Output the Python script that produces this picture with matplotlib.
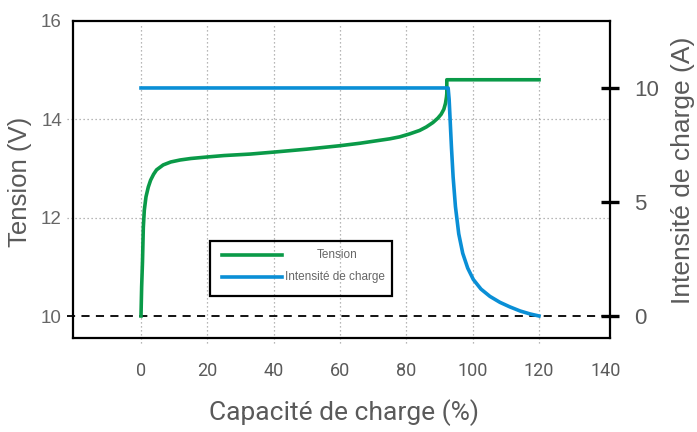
import matplotlib
matplotlib.use("Agg")
import matplotlib.pyplot as plt
from matplotlib.patches import Rectangle
from matplotlib.lines import Line2D

# ---- data ----
cap_tension = [0, 0.2, 0.45, 0.7, 1.0, 1.5, 2.2, 2.9, 3.8, 4.7, 6.7, 9, 11.8, 15, 19.8,
               25, 32.9, 40, 50, 60, 66, 71, 75, 78, 81, 84, 86, 88, 89.5, 90.5, 91.3,
               91.8, 92.1, 92.2, 92.2, 120]
tension = [10.0, 10.6, 11.1, 11.8, 12.15, 12.42, 12.62, 12.76, 12.88, 12.97, 13.07, 13.13,
           13.17, 13.2, 13.23, 13.26, 13.29, 13.33, 13.39, 13.46, 13.51, 13.56, 13.6,
           13.64, 13.7, 13.77, 13.84, 13.93, 14.02, 14.1, 14.2, 14.32, 14.45, 14.52,
           14.8, 14.8]

cap_courant = [0, 92.6, 92.9, 93.2, 93.6, 94.1, 94.8, 95.8, 97.0, 98.5, 100.2, 102.5,
               105.2, 108.2, 111.2, 114.3, 117.3, 120]
courant = [10.0, 10.0, 9.5, 8.6, 7.4, 6.1, 4.8, 3.6, 2.75, 2.1, 1.6, 1.18, 0.86, 0.6,
           0.4, 0.22, 0.09, 0.0]

x_ticks = [0, 20, 40, 60, 80, 100, 120, 140]
x_grid = [0, 20, 40, 60, 80, 100, 120]
v_ticks = [10, 12, 14, 16]
a_ticks = [0, 5, 10]

GREEN = "#0a9a48"
BLUE = "#0a8fd6"
GRAY_TXT = "#5a5a5a"
GRID = "#a0a0a0"

fig = plt.figure(figsize=(6.97, 4.32), dpi=100)
W, H = 697, 432
ax = fig.add_axes([73 / W, 1 - 338 / H, (610 - 73) / W, (338 - 20.7) / H])
ax.set_xlim(-20.5, 141.4)
ax.set_ylim(9.553, 16.0)

for s in ax.spines.values():
    s.set_linewidth(1.6)
    s.set_color("black")

# grid lines (manual, extending slightly outside)
for xv in x_grid:
    ax.plot([xv, xv], [9.451, 15.95], color=GRID, lw=0.9, ls=(0, (1, 2.2)),
            clip_on=False, zorder=1)
for yv in [12, 14]:
    ax.plot([-22.3, 140.9], [yv, yv], color=GRID, lw=0.9, ls=(0, (1, 2.2)),
            clip_on=False, zorder=1)
ax.plot([-22.3, 143.8], [10, 10], color="black", lw=1.3, ls=(0, (4.5, 3.5)),
        clip_on=False, zorder=2)

ax.plot(cap_tension, tension, color=GREEN, lw=2.6, zorder=3,
        solid_joinstyle="round")

ax.set_xticks(x_ticks)
ax.set_xticklabels([str(v) for v in x_ticks], fontfamily="Roboto",
                   fontsize=13, color=GRAY_TXT)
ax.tick_params(axis="x", length=0, pad=17)
ax.set_yticks(v_ticks)
ax.set_yticklabels([str(v) for v in v_ticks], fontfamily="Liberation Sans",
                   fontsize=13.5, color="#666666")
ax.tick_params(axis="y", length=0, pad=8)

ax2 = ax.twinx()
ax2.set_ylim(-0.965, 12.95)
ax2.plot(cap_courant, courant, color=BLUE, lw=2.6, zorder=3,
         solid_joinstyle="round")
ax2.set_yticks(a_ticks)
ax2.set_yticklabels([str(v) for v in a_ticks], fontfamily="Liberation Sans",
                    fontsize=16, color=GRAY_TXT)
ax2.tick_params(axis="y", direction="inout", length=13, width=2.4,
                color="black", pad=11)
for s in ax2.spines.values():
    s.set_visible(False)

# axis labels
fig.text(20 / W, 1 - 182 / H, "Tension (V)", rotation=90, ha="center",
         va="center", fontfamily="Liberation Sans", fontsize=18.5, color=GRAY_TXT)
fig.text(683 / W, 1 - 170 / H, "Intensité de charge (A)", rotation=90,
         ha="center", va="center", fontfamily="Liberation Sans", fontsize=19,
         color=GRAY_TXT)
fig.text(344 / W, 1 - 413 / H, "Capacité de charge (%)", ha="center",
         va="center", fontfamily="Roboto", fontsize=19, color=GRAY_TXT)

# manual legend
def fx(px):
    return (px - 73) / (610 - 73)

def fy(py):
    return (338 - py) / (338 - 20.7)

ax2.add_patch(Rectangle((fx(210), fy(296)), fx(392) - fx(210), fy(241) - fy(296),
                        transform=ax2.transAxes, fill=False, edgecolor="black",
                        lw=1.6, zorder=5))
ax2.add_line(Line2D([fx(222), fx(282)], [fy(255), fy(255)], transform=ax2.transAxes,
                    color=GREEN, lw=2.6, zorder=6))
ax2.add_line(Line2D([fx(222), fx(282)], [fy(277), fy(277)], transform=ax2.transAxes,
                    color=BLUE, lw=2.6, zorder=6))
ax2.text(fx(337), fy(255), "Tension", transform=ax2.transAxes, ha="center",
         va="center", fontfamily="Liberation Sans", fontsize=8.5, color="#666666")
ax2.text(fx(285), fy(277), "Intensité de charge", transform=ax2.transAxes,
         ha="left", va="center", fontfamily="Liberation Sans", fontsize=8.5,
         color="#666666")

fig.savefig("out.png", dpi=100)
